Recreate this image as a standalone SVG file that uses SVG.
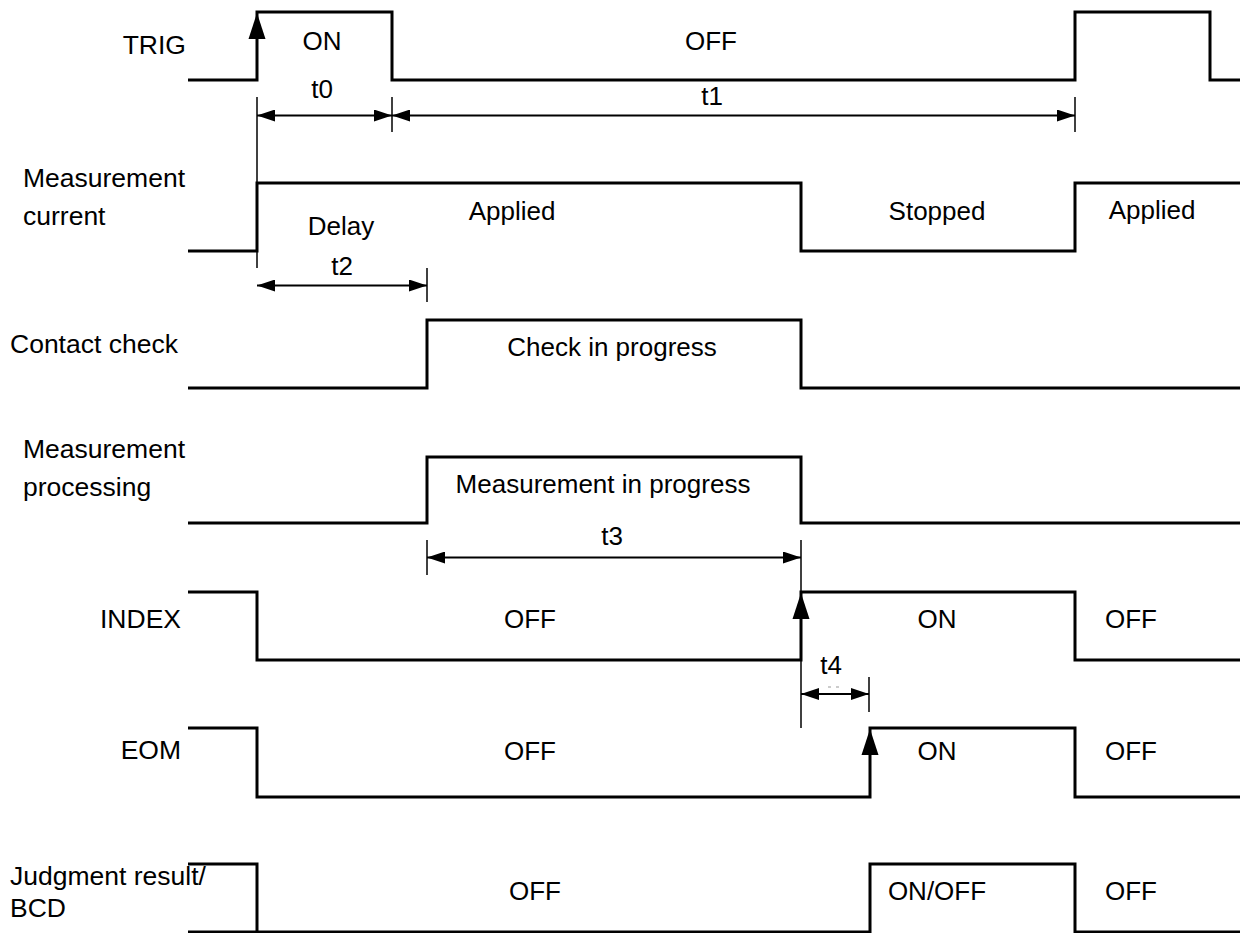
<svg xmlns="http://www.w3.org/2000/svg" xmlns:xlink="http://www.w3.org/1999/xlink" width="1240" height="933" viewBox="0 0 1240 933">
<style>
.sig{fill:none;stroke:#000;stroke-width:3;stroke-linejoin:miter;stroke-linecap:butt}
.dim{fill:none;stroke:#000;stroke-width:2}
.ext{fill:none;stroke:#000;stroke-width:1.5}
text{font-family:"Liberation Sans",Arial,sans-serif;font-size:26px;fill:#000}
.lbl{font-size:26.5px}
.c{text-anchor:middle}
.r{text-anchor:end}
</style>
<defs>
<marker id="ah" markerUnits="userSpaceOnUse" markerWidth="18" markerHeight="12" refX="18" refY="6" orient="auto-start-reverse" viewBox="0 0 18 12">
<path d="M0,0 L18,6 L0,12 z" fill="#000"/>
</marker>
<path id="up" d="M0,0 L8.5,26 L-8.5,26 z" fill="#000"/>
</defs>
<rect width="1240" height="933" fill="#fff"/>

<g id="trig">
<path class="sig" d="M188,80 H257 V12 H392 V80 H1075 V12 H1210 V80 H1240"/>
<use xlink:href="#up" x="257" y="13"/>
<text class="lbl r" x="186" y="54">TRIG</text>
<text class="c" x="322" y="50">ON</text>
<text class="c" x="711" y="50">OFF</text>
</g>

<g id="current">
<path class="sig" d="M188,251 H257 V183 H801 V251 H1075 V183 H1240"/>
<text class="lbl" x="23" y="187">Measurement</text>
<text class="lbl" x="23" y="225">current</text>
<text class="c" x="341" y="235">Delay</text>
<text class="c" x="512" y="220">Applied</text>
<text class="c" x="937" y="220">Stopped</text>
<text class="c" x="1152" y="219">Applied</text>
</g>

<g id="contact">
<path class="sig" d="M188,388 H427 V320 H801 V388 H1240"/>
<text class="lbl" x="10" y="353">Contact check</text>
<text class="c" x="612" y="356">Check in progress</text>
</g>

<g id="processing">
<path class="sig" d="M188,523 H427 V457 H801 V523 H1240"/>
<text class="lbl" x="23" y="458">Measurement</text>
<text class="lbl" x="23" y="496">processing</text>
<text class="c" x="603" y="493">Measurement in progress</text>
</g>

<g id="index">
<path class="sig" d="M188,592 H257 V660 H801 V592 H1075 V660 H1240"/>
<use xlink:href="#up" x="801" y="593"/>
<text class="lbl r" x="181" y="628">INDEX</text>
<text class="c" x="530" y="628">OFF</text>
<text class="c" x="937" y="628">ON</text>
<text class="c" x="1131" y="628">OFF</text>
</g>

<g id="eom">
<path class="sig" d="M188,728 H257 V797 H870 V728 H1075 V797 H1240"/>
<use xlink:href="#up" x="870" y="729"/>
<text class="lbl r" x="181" y="759">EOM</text>
<text class="c" x="530" y="760">OFF</text>
<text class="c" x="937" y="760">ON</text>
<text class="c" x="1131" y="760">OFF</text>
</g>

<g id="judgment">
<path class="sig" d="M188,864 H257 V932 H870 V864 H1075 V932 H1240"/>
<line class="sig" x1="188" y1="932" x2="257" y2="932"/>
<text class="lbl" x="10" y="885">Judgment result/</text>
<text class="lbl" x="10" y="917">BCD</text>
<text class="c" x="535" y="900">OFF</text>
<text class="c" x="937" y="900">ON/OFF</text>
<text class="c" x="1131" y="900">OFF</text>
</g>

<g id="connectors">
<line class="ext" x1="257" y1="97" x2="257" y2="268"/>
<line class="ext" x1="392" y1="97" x2="392" y2="132"/>
<line class="ext" x1="1075" y1="97" x2="1075" y2="132"/>
<line class="dim" x1="257" y1="115.5" x2="392" y2="115.5" marker-start="url(#ah)" marker-end="url(#ah)"/>
<line class="dim" x1="392" y1="115.5" x2="1075" y2="115.5" marker-start="url(#ah)" marker-end="url(#ah)"/>
<text class="c" x="322" y="98">t0</text>
<text class="c" x="712" y="105">t1</text>

<line class="ext" x1="427" y1="268" x2="427" y2="302"/>
<line class="dim" x1="257" y1="285.5" x2="427" y2="285.5" marker-start="url(#ah)" marker-end="url(#ah)"/>
<text class="c" x="342" y="275">t2</text>

<line class="ext" x1="427" y1="540" x2="427" y2="575"/>
<line class="ext" x1="801" y1="540" x2="801" y2="728"/>
<line class="dim" x1="427" y1="557.5" x2="801" y2="557.5" marker-start="url(#ah)" marker-end="url(#ah)"/>
<text class="c" x="612" y="545">t3</text>

<line class="ext" x1="869" y1="677" x2="869" y2="712"/>
<line class="dim" x1="801" y1="694" x2="869" y2="694" marker-start="url(#ah)" marker-end="url(#ah)"/>
<line x1="828" y1="687" x2="844" y2="687" stroke="#999" stroke-width="1" stroke-dasharray="3,5"/>
<text class="c" x="831" y="674">t4</text>
</g>
</svg>
